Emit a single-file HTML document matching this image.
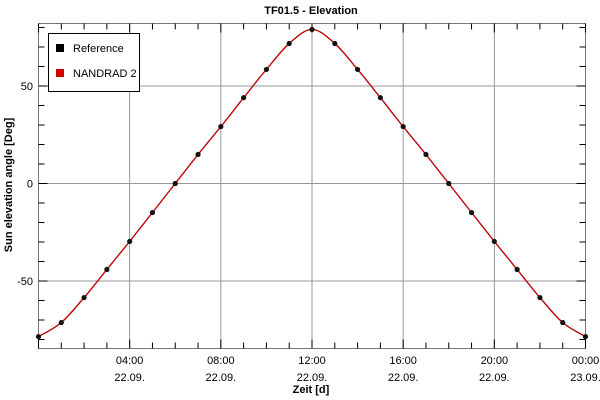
<!DOCTYPE html>
<html><head><meta charset="utf-8"><style>
body{margin:0;background:#fff;}
svg{display:block;font-family:"Liberation Sans",sans-serif;}
</style></head><body>
<svg id="c" width="600" height="400">
<text x="311" y="14" text-anchor="middle" font-size="11" font-weight="bold">TF01.5 - Elevation</text>
<text x="311" y="393" text-anchor="middle" font-size="11" font-weight="bold">Zeit [d]</text>
<text transform="translate(12,185) rotate(-90)" text-anchor="middle" font-size="11" font-weight="bold">Sun elevation angle [Deg]</text>
<g id="grid"></g><g id="axes"></g><g id="series"></g>
<g>
<rect x="48.5" y="33.5" width="91" height="58" fill="#fff" stroke="#000"/>
<rect x="56" y="44" width="8" height="8" fill="#000"/>
<text x="73" y="52" font-size="11">Reference</text>
<rect x="56" y="69" width="8" height="8" fill="#d00000"/>
<text x="73" y="77" font-size="11">NANDRAD 2</text>
</g>
</svg>
<script>
const hours=[0,1,2,3,4,5,6,7,8,9,10,11,12,13,14,15,16,17,18,19,20,21,22,23,24];
const refValues=[-78.5,-71.3,-58.5,-44.1,-29.7,-14.9,0,14.9,29.2,44,58.5,71.8,79,71.8,58.5,44,29.2,14.9,0,-14.9,-29.7,-44.1,-58.5,-71.3,-78.5];
const nandradValues=[-78.5,-71.3,-58.5,-44.1,-29.7,-14.9,0,14.9,29.2,44,58.5,71.8,79,71.8,58.5,44,29.2,14.9,0,-14.9,-29.7,-44.1,-58.5,-71.3,-78.5];
const yTicks=[-50,0,50];
const xTicks=[4,8,12,16,20,24];
const xTickLabels=["04:00","08:00","12:00","16:00","20:00","00:00"];
const xTickDates=["22.09.","22.09.","22.09.","22.09.","22.09.","23.09."];
const L=38.5,R=585.5,T=23.5,B=348.5;
const x=h=>L+(R-L)*h/24;
const y=v=>183.5-v*1.95;
const NS="http://www.w3.org/2000/svg";
function mk(p,tag,a){const e=document.createElementNS(NS,tag);for(const k in a)e.setAttribute(k,a[k]);p.appendChild(e);return e;}
const grid=document.getElementById('grid'),axes=document.getElementById('axes'),ser=document.getElementById('series');
xTicks.forEach((h,i)=>{
 if(h<24){const g=mk(grid,'line',{x1:x(h),x2:x(h),y1:T,y2:B,stroke:'#999','stroke-width':1});
 
 }
 const t=mk(axes,'text',{x:x(h),y:364,'text-anchor':'middle','font-size':11});t.textContent=xTickLabels[i];
 
 
 const d=mk(axes,'text',{x:x(h),y:381,'text-anchor':'middle','font-size':11});d.textContent=xTickDates[i];
 
 
});
yTicks.forEach(v=>{
 const g=mk(grid,'line',{x1:L,x2:R,y1:y(v),y2:y(v),stroke:'#999','stroke-width':1});
 
 
 const t=mk(axes,'text',{x:33,y:y(v)+4,'text-anchor':'end','font-size':11});t.textContent=v;
 
 
});
const fr=mk(axes,'rect',{x:L,y:T,width:R-L,height:B-T,fill:'none',stroke:'#777'});


for(let h=0;h<=24;h++){const len=h%4==0?9:6;
 mk(axes,'line',{x1:x(h),x2:x(h),y1:B,y2:B-len,stroke:'#000'});
 mk(axes,'line',{x1:x(h),x2:x(h),y1:T,y2:T+len,stroke:'#000'});}
for(let v=-80;v<=80;v+=10){if(y(v)<T||y(v)>B)continue;const len=v%50==0?9:6;
 mk(axes,'line',{x1:L,x2:L+len,y1:y(v),y2:y(v),stroke:'#000'});
 mk(axes,'line',{x1:R,x2:R-len,y1:y(v),y2:y(v),stroke:'#000'});}
function smooth(xs,vs){const P=xs.map((h,i)=>[x(h),y(vs[i])]);let d='M'+P[0];
 for(let i=0;i<P.length-1;i++){const p0=P[i-1]||P[i],p1=P[i],p2=P[i+1],p3=P[i+2]||P[i+1];
 d+=' C'+(p1[0]+(p2[0]-p0[0])/6)+','+(p1[1]+(p2[1]-p0[1])/6)+' '+(p2[0]-(p3[0]-p1[0])/6)+','+(p2[1]-(p3[1]-p1[1])/6)+' '+p2;}return d;}
const rl=mk(ser,'path',{d:smooth(hours,refValues),fill:'none',stroke:'#000','stroke-width':1.2});


const nl=mk(ser,'path',{d:smooth(hours,nandradValues),fill:'none',stroke:'#d00000','stroke-width':1.2});


hours.forEach((h,i)=>{const c=mk(ser,'circle',{cx:x(h),cy:y(refValues[i]),r:2.6,fill:'#111'});
 
 });
</script>
</body></html>
